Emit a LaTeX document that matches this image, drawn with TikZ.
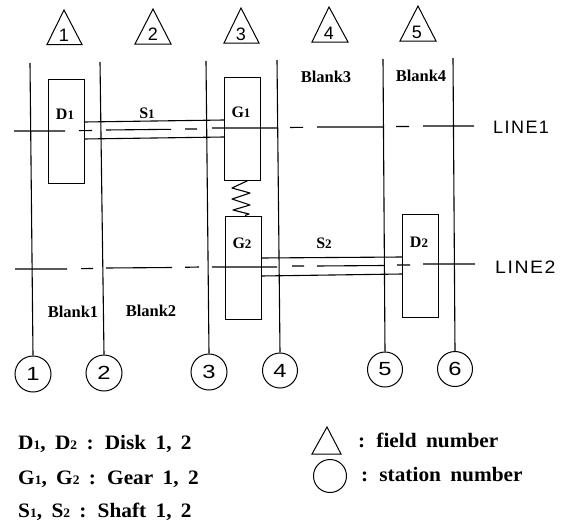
\documentclass[tikz,border=0pt]{standalone}
\usepackage{fontspec}
\setmainfont{Liberation Serif}
\newfontfamily\plotfont{Liberation Sans}
\newfontfamily\plotwide[LetterSpace=8]{Liberation Sans}
\tikzset{
  x=1pt,y=-1pt,
  ln/.style={line width=1.1pt,black},
  thin line/.style={line width=1.1pt,black},
  tri/.style={line width=1pt,line join=miter},
  digit/.style={font=\plotfont\fontsize{18}{18}\selectfont,inner sep=0pt},
  cdigit/.style={font=\plotfont\fontsize{19}{19}\selectfont,inner sep=0pt,xscale=1.25},
  lab/.style={font=\bfseries\fontsize{16}{16}\selectfont,inner sep=0pt},
  blank/.style={font=\bfseries\fontsize{16.5}{16}\selectfont,inner sep=0pt},
  leg/.style={font=\bfseries\fontsize{20.5}{21}\selectfont,execute at begin node={\spaceskip=9pt\relax},inner sep=0pt,anchor=west,xscale=1.04},
  linelab/.style={font=\plotwide\fontsize{18}{18}\selectfont,inner sep=0pt,anchor=west},
  stn/.style={draw,circle,line width=1pt,inner sep=0pt,fill=white},
  part/.style={draw,line width=1pt,fill=white}
}
\newcommand{\sm}[1]{{\fontsize{13}{13}\selectfont #1}}
\begin{document}
\begin{tikzpicture}
\useasboundingbox (0,0) rectangle (565,525);
% triangles
\draw[tri] (64,10)--(47,44.5)--(82,44.5)--cycle;
\draw[tri] (153,9)--(135,44)--(171,44)--cycle;
\draw[tri] (241,8)--(224,43)--(259,43)--cycle;
\draw[tri] (329,7)--(312,42)--(348,42)--cycle;
\draw[tri] (418,6)--(400,41)--(436,41)--cycle;
\node[digit] (f1) at (64,35) {1};
\node[digit] (f2) at (153,34) {2};
\node[digit] (f3) at (241,34) {3};
\node[digit] (f4) at (329,33) {4};
\node[digit] (f5) at (417,32) {5};
% station circles
\node[stn,minimum size=36pt] (c1) at (33,374) {};
\node[stn,minimum size=36pt] (c2) at (104,373) {};
\node[stn,minimum size=36pt] (c3) at (209,372) {};
\node[stn,minimum size=35pt] (c4) at (280,370.5) {};
\node[stn,minimum size=35pt] (c5) at (385,369.5) {};
\node[stn,minimum size=35pt] (c6) at (455,369) {};
\node[cdigit] at (c1) {1};
\node[cdigit] at (c2) {2};
\node[cdigit] at (c3) {3};
\node[cdigit] at (c4) {4};
\node[cdigit] at (c5) {5};
\node[cdigit] at (c6) {6};
% station top coords
\coordinate (t1) at (30,63);
\coordinate (t2) at (100,62);
\coordinate (t3) at (206,61);
\coordinate (t4) at (277,60);
\coordinate (t5) at (383,59);
\coordinate (t6) at (453,58);
\draw[ln] (t1)--(c1.north);
\draw[ln] (t2)--(c2.north);
\draw[ln] (t3)--(c3.north);
\draw[ln] (t4)--(c4.north);
\draw[ln] (t5)--(c5.north);
\draw[ln] (t6)--(c6.north);
% boxes
\node[part,minimum width=36pt,minimum height=104pt] (d1) at (66,131) {};
\node[part,minimum width=36pt,minimum height=103pt] (g1) at (242,128.5) {};
\node[part,minimum width=36pt,minimum height=103pt] (g2) at (243,267.5) {};
\node[part,minimum width=36pt,minimum height=103pt] (d2) at (420,265.5) {};
% shafts
\draw[thin line] (84,122)--(224,120);
\draw[thin line] (84,139)--(224,137);
\draw[thin line] (261,258)--(402,257);
\draw[thin line] (261,276)--(402,274);
% center lines
\draw[thin line] (14,131)--(65,131) (79,130.7)--(92,130.5) (106,130)--(171,129.3) (185,129)--(197,129) (212,128)--(277,128);
\draw[thin line] (290,127.5)--(303,127.3) (317,127)--(383,127) (396,126.5)--(409,126.5) (423,126)--(474,126);
\draw[thin line] (15,269)--(67,269) (81,268.6)--(93,268.5) (106,268)--(172,267.5) (185,267.3)--(199,267) (212,267)--(277,267);
\draw[thin line] (292,266)--(304,266) (317,266)--(384,265.5) (397,265)--(410,265) (423,264)--(475,264);
% spring
\coordinate (sp1) at ([xshift=6pt]g1.south);
\coordinate (sp2) at ([xshift=2pt]g2.north);
\draw[line width=1.1pt,line join=round] (sp1)--(232,188)--(250,193)--(232,199)--(250,205)--(233,210)--(249,214)--(sp2);
% labels
\node[lab] at (65,114) {D\sm{1}};
\node[lab] (s1) at (147,113) {S\sm{1}};
\node[lab] at (241,112) {G\sm{1}};
\node[lab] at (242,243) {G\sm{2}};
\node[lab] at (324,243) {S\sm{2}};
\node[lab] at (419,242) {D\sm{2}};
\node[blank] at (326,77) {Blank3};
\node[blank] at (421,76) {Blank4};
\node[blank] at (73,312) {Blank1};
\node[blank] at (151,311) {Blank2};
\node[linelab] at (493,127) {LINE1};
\node[linelab,xscale=1.08] at (495,267) {LINE2};
% legend
\node[leg] at (18,444) {D\sm{1}, D\sm{2} : Disk 1, 2};
\node[leg] at (18,479) {G\sm{1}, G\sm{2} : Gear 1, 2};
\node[leg] at (18,512) {S\sm{1}, S\sm{2} : Shaft 1, 2};
\draw[tri] (327,427)--(312,454)--(341,454)--cycle;
\node[draw,circle,line width=1pt,minimum size=33pt,inner sep=0pt] (lc) at (330,476) {};
\node[leg] at (358,440) {: field number};
\node[leg] at (361,475) {: station number};
\end{tikzpicture}
\end{document}
